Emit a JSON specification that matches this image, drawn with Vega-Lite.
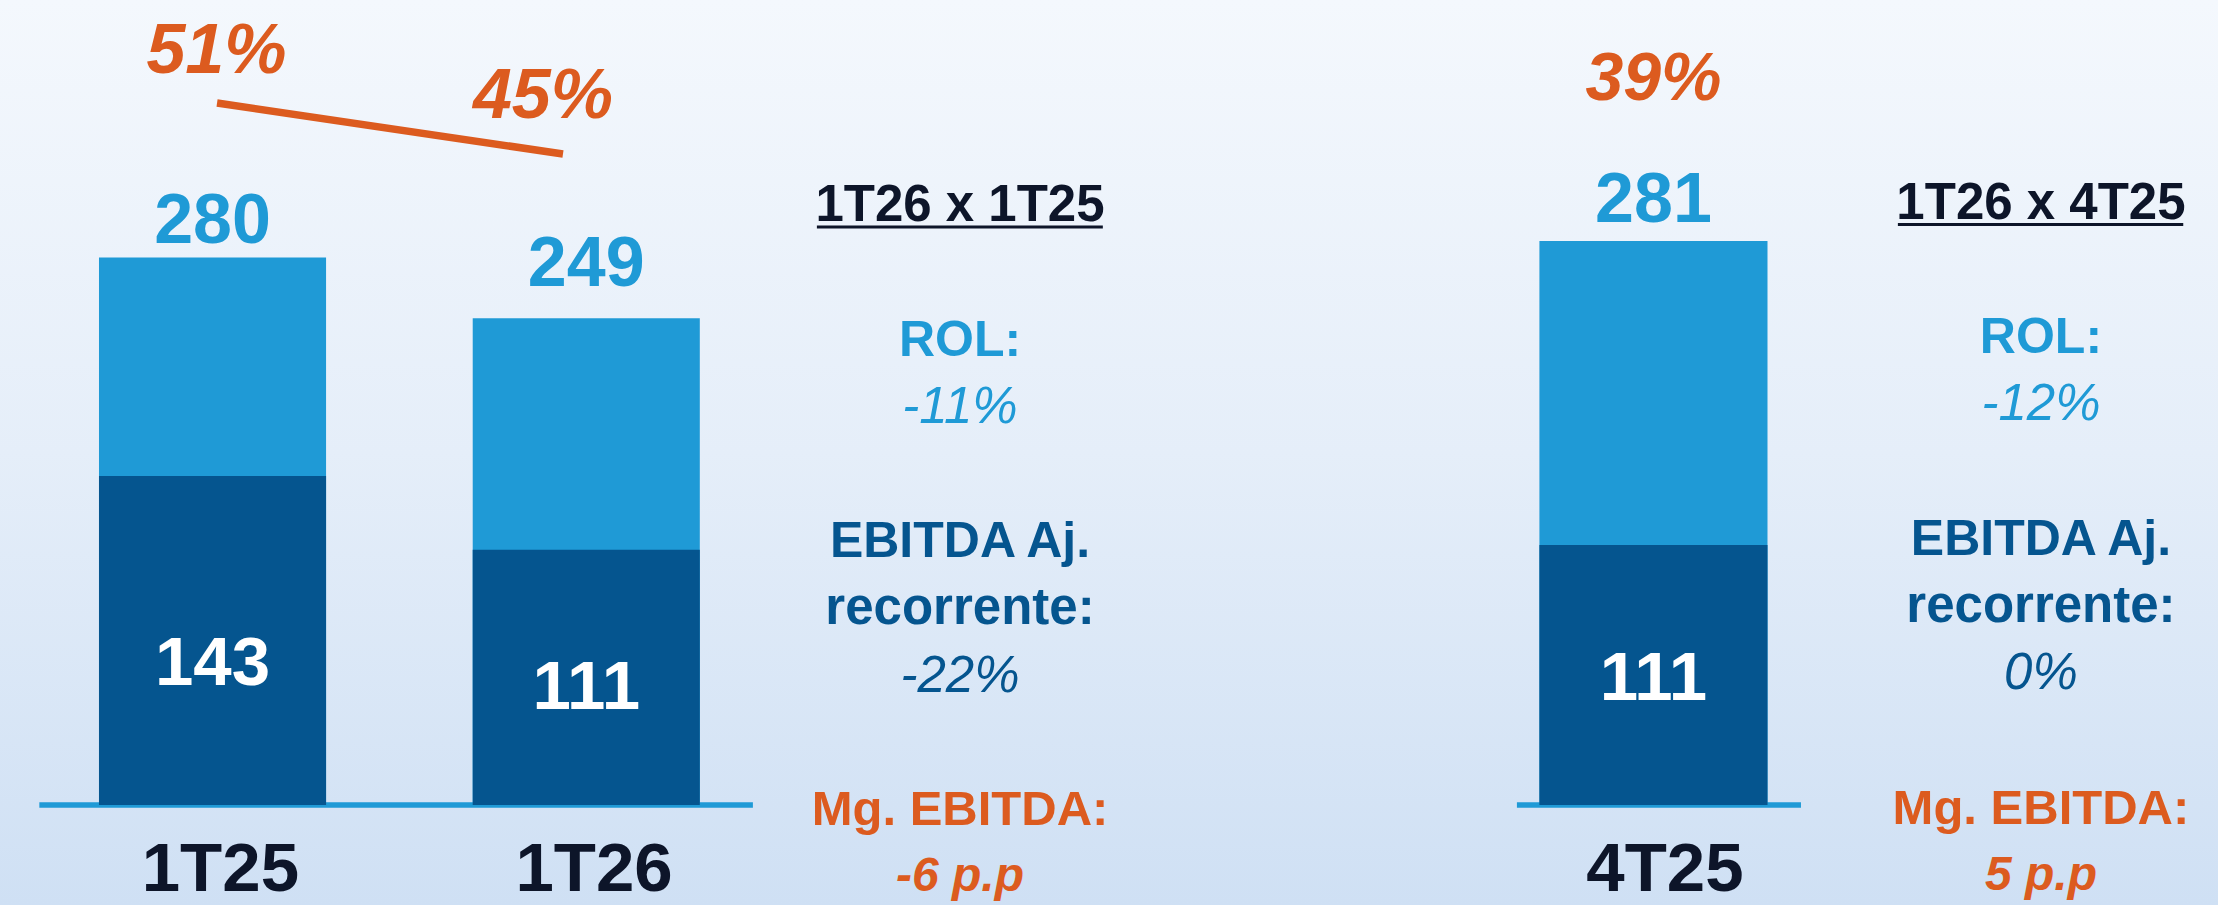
{
  "$schema": "https://vega.github.io/schema/vega-lite/v6.json",
  "padding": 0,
  "spacing": 0,
  "bounds": "flush",
  "background": "#e3edf8",
  "config": {
    "view": {
      "stroke": null,
      "fill": {"gradient": "linear", "x1": 0, "y1": 0, "x2": 0, "y2": 1,
        "stops": [{"offset": 0, "color": "#f4f8fd"}, {"offset": 0.5, "color": "#e5eef9"}, {"offset": 1, "color": "#cfe0f4"}]}
    },
    "text": {"font": "Liberation Sans", "align": "center", "baseline": "alphabetic"}
  },
  "datasets": {
    "periods": [
      {"period": "1T25", "rol": 280, "ebitda": 143, "margin": 0.51},
      {"period": "1T26", "rol": 249, "ebitda": 111, "margin": 0.45},
      {"period": "4T25", "rol": 281, "ebitda": 111, "margin": 0.39}
    ],
    "comparisons": [
      {"col": "1T26 x 1T25", "rol": "-11%", "ebitda": "-22%", "mg": "-6 p.p"},
      {"col": "1T26 x 4T25", "rol": "-12%", "ebitda": "0%", "mg": "5 p.p"}
    ]
  },
  "hconcat": [
    {
      "width": 1300,
      "height": 905,
      "resolve": {"scale": {"x": "independent", "y": "independent"}},
      "layer": [
        {
          "layer": [
            {
              "data": {"name": "periods"},
              "transform": [{"filter": "datum.period == '1T25'"}],
              "mark": {"type": "rule", "color": "#1f9ad6", "strokeWidth": 5.5},
              "encoding": {
                "x": {"datum": "1T25", "type": "nominal", "bandPosition": -0.162, "scale": {"type": "band", "domain": ["1T25", "1T26", "1T26 x 1T25"], "paddingInner": 0.3, "paddingOuter": 0.3892, "align": 0.2809, "round": false}, "axis": null},
                "x2": {"datum": "1T26", "bandPosition": 1.137},
                "y": {"datum": 0, "type": "quantitative", "scale": {"domain": [-51.151, 411.765], "zero": false, "nice": false}, "axis": null}
              }
            },
            {
              "data": {"name": "periods"},
              "transform": [{"filter": "datum.period != '4T25'"}],
              "mark": {"type": "bar", "color": "#1f9ad6", "width": {"band": 0.868}},
              "encoding": {
                "x": {"field": "period", "type": "nominal", "scale": {"type": "band", "domain": ["1T25", "1T26", "1T26 x 1T25"], "paddingInner": 0.3, "paddingOuter": 0.3892, "align": 0.2809, "round": false}, "axis": null},
                "y": {"field": "rol", "type": "quantitative", "scale": {"domain": [-51.151, 411.765], "zero": false, "nice": false}, "axis": null}
              }
            },
            {
              "data": {"name": "periods"},
              "transform": [{"filter": "datum.period != '4T25'"}],
              "mark": {"type": "text", "fontSize": 69, "fontWeight": "bold", "color": "#0d1529"},
              "encoding": {
                "x": {"field": "period", "type": "nominal", "bandPosition": 0.53, "scale": {"type": "band", "domain": ["1T25", "1T26", "1T26 x 1T25"], "paddingInner": 0.3, "paddingOuter": 0.3892, "align": 0.2809, "round": false}, "axis": null},
                "y": {"datum": -43.99, "type": "quantitative", "scale": {"domain": [-51.151, 411.765], "zero": false, "nice": false}, "axis": null},
                "text": {"field": "period"}
              }
            },
            {
              "data": {"name": "comparisons"},
              "transform": [{"filter": "datum.col == '1T26 x 1T25'"}],
              "encoding": {
                "x": {"field": "col", "type": "nominal", "scale": {"type": "band", "domain": ["1T25", "1T26", "1T26 x 1T25"], "paddingInner": 0.3, "paddingOuter": 0.3892, "align": 0.2809, "round": false}, "axis": null}
              },
              "layer": [
                {"mark": {"type": "text", "fontSize": 51, "fontWeight": "bold", "color": "#0d1529"},
                 "encoding": {"y": {"datum": 298.72, "type": "quantitative", "scale": {"domain": [-51.151, 411.765], "zero": false, "nice": false}, "axis": null}, "text": {"field": "col"}}},
                {"mark": {"type": "rule", "color": "#0d1529", "strokeWidth": 3},
                 "encoding": {
                   "x": {"field": "col", "type": "nominal", "bandPosition": -0.047, "scale": {"type": "band", "domain": ["1T25", "1T26", "1T26 x 1T25"], "paddingInner": 0.3, "paddingOuter": 0.3892, "align": 0.2809, "round": false}, "axis": null},
                   "x2": {"field": "col", "bandPosition": 1.046},
                   "y": {"datum": 295.6, "type": "quantitative", "scale": {"domain": [-51.151, 411.765], "zero": false, "nice": false}, "axis": null}}},
                {"mark": {"type": "text", "fontSize": 50, "fontWeight": "bold", "color": "#1f9ad6"},
                 "encoding": {"y": {"datum": 229.67, "type": "quantitative", "scale": {"domain": [-51.151, 411.765], "zero": false, "nice": false}, "axis": null}, "text": {"value": "ROL:"}}},
                {"mark": {"type": "text", "fontSize": 51, "fontStyle": "italic", "color": "#1f9ad6"},
                 "encoding": {"y": {"datum": 195.4, "type": "quantitative", "scale": {"domain": [-51.151, 411.765], "zero": false, "nice": false}, "axis": null}, "text": {"field": "rol"}}},
                {"mark": {"type": "text", "fontSize": 50, "fontWeight": "bold", "color": "#05558f"},
                 "encoding": {"y": {"datum": 126.85, "type": "quantitative", "scale": {"domain": [-51.151, 411.765], "zero": false, "nice": false}, "axis": null}, "text": {"value": "EBITDA Aj."}}},
                {"mark": {"type": "text", "fontSize": 51, "fontWeight": "bold", "color": "#05558f"},
                 "encoding": {"y": {"datum": 92.58, "type": "quantitative", "scale": {"domain": [-51.151, 411.765], "zero": false, "nice": false}, "axis": null}, "text": {"value": "recorrente:"}}},
                {"mark": {"type": "text", "fontSize": 51, "fontStyle": "italic", "color": "#05558f"},
                 "encoding": {"y": {"datum": 57.8, "type": "quantitative", "scale": {"domain": [-51.151, 411.765], "zero": false, "nice": false}, "axis": null}, "text": {"field": "ebitda"}}},
                {"mark": {"type": "text", "fontSize": 49, "fontWeight": "bold", "color": "#dc5b1f"},
                 "encoding": {"y": {"datum": -10.23, "type": "quantitative", "scale": {"domain": [-51.151, 411.765], "zero": false, "nice": false}, "axis": null}, "text": {"value": "Mg. EBITDA:"}}},
                {"mark": {"type": "text", "fontSize": 48, "fontWeight": "bold", "fontStyle": "italic", "color": "#dc5b1f"},
                 "encoding": {"y": {"datum": -43.99, "type": "quantitative", "scale": {"domain": [-51.151, 411.765], "zero": false, "nice": false}, "axis": null}, "text": {"field": "mg"}}}
              ]
            }
          ]
        },
        {
          "data": {"name": "periods"},
          "transform": [{"filter": "datum.period != '4T25'"}],
          "mark": {"type": "bar", "color": "#05558f", "width": {"band": 0.868}},
          "encoding": {
            "x": {"field": "period", "type": "nominal", "scale": {"type": "band", "domain": ["1T25", "1T26", "1T26 x 1T25"], "paddingInner": 0.3, "paddingOuter": 0.3892, "align": 0.2809, "round": false}, "axis": null},
            "y": {"field": "ebitda", "type": "quantitative", "scale": {"domain": [-43.478, 350.0], "zero": false, "nice": false}, "axis": null}
          }
        },
        {
          "data": {"name": "periods"},
          "transform": [{"filter": "datum.period != '4T25'"}],
          "mark": {"type": "text", "fontSize": 69, "fontWeight": "bold", "color": "#ffffff"},
          "encoding": {
            "x": {"field": "period", "type": "nominal", "scale": {"type": "band", "domain": ["1T25", "1T26", "1T26 x 1T25"], "paddingInner": 0.3, "paddingOuter": 0.3892, "align": 0.2809, "round": false}, "axis": null},
            "y": {"field": "ebitda", "type": "quantitative", "scale": {"domain": [-141.51, 1026.23], "zero": false, "nice": false}, "axis": null},
            "text": {"field": "ebitda"}
          }
        },
        {
          "data": {"name": "periods"},
          "transform": [{"filter": "datum.period != '4T25'"}],
          "mark": {"type": "text", "fontSize": 70, "fontWeight": "bold", "color": "#1f9ad6"},
          "encoding": {
            "x": {"field": "period", "type": "nominal", "scale": {"type": "band", "domain": ["1T25", "1T26", "1T26 x 1T25"], "paddingInner": 0.3, "paddingOuter": 0.3892, "align": 0.2809, "round": false}, "axis": null},
            "y": {"field": "rol", "type": "quantitative", "scale": {"domain": [-200.62, 456.42], "zero": false, "nice": false}, "axis": null},
            "text": {"field": "rol"}
          }
        },
        {
          "data": {"name": "periods"},
          "transform": [{"filter": "datum.period != '4T25'"}],
          "mark": {"type": "line", "color": "#dc5b1f", "strokeWidth": 7.5, "strokeCap": "butt"},
          "encoding": {
            "x": {"field": "period", "type": "nominal", "scale": {"type": "point", "domain": ["1T25", "1T26", "1T26 x 1T25"], "padding": 0.879, "align": 0.3569, "round": false}, "axis": null},
            "y": {"field": "margin", "type": "quantitative", "scale": {"domain": [-0.43353, 0.63118], "zero": false, "nice": false}, "axis": null}
          }
        },
        {
          "data": {"name": "periods"},
          "transform": [{"filter": "datum.period != '4T25'"}],
          "mark": {"type": "text", "fontSize": 70, "fontWeight": "bold", "fontStyle": "italic", "color": "#dc5b1f"},
          "encoding": {
            "x": {"field": "period", "type": "nominal", "scale": {"type": "point", "domain": ["1T25", "1T26", "1T26 x 1T25"], "padding": 0.9908, "align": 0.3346, "round": false}, "axis": null},
            "y": {"field": "margin", "type": "quantitative", "scale": {"domain": [-0.59933, 0.60733], "zero": false, "nice": false}, "axis": null},
            "text": {"field": "margin", "type": "quantitative", "format": ".0%"}
          }
        }
      ]
    },
    {
      "width": 918,
      "height": 905,
      "resolve": {"scale": {"y": "independent"}},
      "layer": [
        {
          "layer": [
            {
              "data": {"name": "periods"},
              "transform": [{"filter": "datum.period == '4T25'"}],
              "mark": {"type": "rule", "color": "#1f9ad6", "strokeWidth": 5.5},
              "encoding": {
                "x": {"datum": "4T25", "type": "nominal", "bandPosition": -0.022, "scale": {"type": "band", "domain": ["4T25", "1T26 x 4T25"], "paddingInner": 0.325, "paddingOuter": 0.347, "align": 0.828, "round": false}, "axis": null},
                "x2": {"datum": "4T25", "bandPosition": 1.064},
                "y": {"datum": 0, "type": "quantitative", "scale": {"domain": [-49.826, 401.096], "zero": false, "nice": false}, "axis": null}
              }
            },
            {
              "data": {"name": "periods"},
              "transform": [{"filter": "datum.period == '4T25'"}],
              "mark": {"type": "bar", "color": "#1f9ad6", "width": {"band": 0.872}},
              "encoding": {
                "x": {"field": "period", "type": "nominal", "scale": {"type": "band", "domain": ["4T25", "1T26 x 4T25"], "paddingInner": 0.325, "paddingOuter": 0.347, "align": 0.828, "round": false}, "axis": null},
                "y": {"field": "rol", "type": "quantitative", "scale": {"domain": [-49.826, 401.096], "zero": false, "nice": false}, "axis": null}
              }
            },
            {
              "data": {"name": "periods"},
              "transform": [{"filter": "datum.period == '4T25'"}],
              "mark": {"type": "text", "fontSize": 69, "fontWeight": "bold", "color": "#0d1529"},
              "encoding": {
                "x": {"field": "period", "type": "nominal", "bandPosition": 0.544, "scale": {"type": "band", "domain": ["4T25", "1T26 x 4T25"], "paddingInner": 0.325, "paddingOuter": 0.347, "align": 0.828, "round": false}, "axis": null},
                "y": {"datum": -42.85, "type": "quantitative", "scale": {"domain": [-49.826, 401.096], "zero": false, "nice": false}, "axis": null},
                "text": {"field": "period"}
              }
            },
            {
              "data": {"name": "comparisons"},
              "transform": [{"filter": "datum.col == '1T26 x 4T25'"}],
              "encoding": {
                "x": {"field": "col", "type": "nominal", "scale": {"type": "band", "domain": ["4T25", "1T26 x 4T25"], "paddingInner": 0.325, "paddingOuter": 0.347, "align": 0.828, "round": false}, "axis": null}
              },
              "layer": [
                {"mark": {"type": "text", "fontSize": 51, "fontWeight": "bold", "color": "#0d1529"},
                 "encoding": {"y": {"datum": 291.98, "type": "quantitative", "scale": {"domain": [-49.826, 401.096], "zero": false, "nice": false}, "axis": null}, "text": {"field": "col"}}},
                {"mark": {"type": "rule", "color": "#0d1529", "strokeWidth": 3},
                 "encoding": {
                   "x": {"field": "col", "type": "nominal", "bandPosition": -0.047, "scale": {"type": "band", "domain": ["4T25", "1T26 x 4T25"], "paddingInner": 0.325, "paddingOuter": 0.347, "align": 0.828, "round": false}, "axis": null},
                   "x2": {"field": "col", "bandPosition": 1.044},
                   "y": {"datum": 289.24, "type": "quantitative", "scale": {"domain": [-49.826, 401.096], "zero": false, "nice": false}, "axis": null}}},
                {"mark": {"type": "text", "fontSize": 50, "fontWeight": "bold", "color": "#1f9ad6"},
                 "encoding": {"y": {"datum": 225.21, "type": "quantitative", "scale": {"domain": [-49.826, 401.096], "zero": false, "nice": false}, "axis": null}, "text": {"value": "ROL:"}}},
                {"mark": {"type": "text", "fontSize": 51, "fontStyle": "italic", "color": "#1f9ad6"},
                 "encoding": {"y": {"datum": 191.83, "type": "quantitative", "scale": {"domain": [-49.826, 401.096], "zero": false, "nice": false}, "axis": null}, "text": {"field": "rol"}}},
                {"mark": {"type": "text", "fontSize": 50, "fontWeight": "bold", "color": "#05558f"},
                 "encoding": {"y": {"datum": 124.56, "type": "quantitative", "scale": {"domain": [-49.826, 401.096], "zero": false, "nice": false}, "axis": null}, "text": {"value": "EBITDA Aj."}}},
                {"mark": {"type": "text", "fontSize": 51, "fontWeight": "bold", "color": "#05558f"},
                 "encoding": {"y": {"datum": 91.18, "type": "quantitative", "scale": {"domain": [-49.826, 401.096], "zero": false, "nice": false}, "axis": null}, "text": {"value": "recorrente:"}}},
                {"mark": {"type": "text", "fontSize": 51, "fontStyle": "italic", "color": "#05558f"},
                 "encoding": {"y": {"datum": 57.8, "type": "quantitative", "scale": {"domain": [-49.826, 401.096], "zero": false, "nice": false}, "axis": null}, "text": {"field": "ebitda"}}},
                {"mark": {"type": "text", "fontSize": 49, "fontWeight": "bold", "color": "#dc5b1f"},
                 "encoding": {"y": {"datum": -9.47, "type": "quantitative", "scale": {"domain": [-49.826, 401.096], "zero": false, "nice": false}, "axis": null}, "text": {"value": "Mg. EBITDA:"}}},
                {"mark": {"type": "text", "fontSize": 48, "fontWeight": "bold", "fontStyle": "italic", "color": "#dc5b1f"},
                 "encoding": {"y": {"datum": -42.35, "type": "quantitative", "scale": {"domain": [-49.826, 401.096], "zero": false, "nice": false}, "axis": null}, "text": {"field": "mg"}}}
              ]
            }
          ]
        },
        {
          "data": {"name": "periods"},
          "transform": [{"filter": "datum.period == '4T25'"}],
          "mark": {"type": "bar", "color": "#05558f", "width": {"band": 0.872}},
          "encoding": {
            "x": {"field": "period", "type": "nominal", "scale": {"type": "band", "domain": ["4T25", "1T26 x 4T25"], "paddingInner": 0.325, "paddingOuter": 0.347, "align": 0.828, "round": false}, "axis": null},
            "y": {"field": "ebitda", "type": "quantitative", "scale": {"domain": [-42.699, 343.723], "zero": false, "nice": false}, "axis": null}
          }
        },
        {
          "data": {"name": "periods"},
          "transform": [{"filter": "datum.period == '4T25'"}],
          "mark": {"type": "text", "fontSize": 69, "fontWeight": "bold", "color": "#ffffff"},
          "encoding": {
            "x": {"field": "period", "type": "nominal", "scale": {"type": "band", "domain": ["4T25", "1T26 x 4T25"], "paddingInner": 0.325, "paddingOuter": 0.347, "align": 0.828, "round": false}, "axis": null},
            "y": {"field": "ebitda", "type": "quantitative", "scale": {"domain": [-153.51, 1014.23], "zero": false, "nice": false}, "axis": null},
            "text": {"field": "ebitda"}
          }
        },
        {
          "data": {"name": "periods"},
          "transform": [{"filter": "datum.period == '4T25'"}],
          "mark": {"type": "text", "fontSize": 70, "fontWeight": "bold", "color": "#1f9ad6"},
          "encoding": {
            "x": {"field": "period", "type": "nominal", "scale": {"type": "band", "domain": ["4T25", "1T26 x 4T25"], "paddingInner": 0.325, "paddingOuter": 0.347, "align": 0.828, "round": false}, "axis": null},
            "y": {"field": "rol", "type": "quantitative", "scale": {"domain": [-215.08, 441.96], "zero": false, "nice": false}, "axis": null},
            "text": {"field": "rol"}
          }
        },
        {
          "data": {"name": "periods"},
          "transform": [{"filter": "datum.period == '4T25'"}],
          "mark": {"type": "text", "fontSize": 68, "fontWeight": "bold", "fontStyle": "italic", "color": "#dc5b1f"},
          "encoding": {
            "x": {"field": "period", "type": "nominal", "scale": {"type": "band", "domain": ["4T25", "1T26 x 4T25"], "paddingInner": 0.325, "paddingOuter": 0.347, "align": 0.828, "round": false}, "axis": null},
            "y": {"field": "margin", "type": "quantitative", "scale": {"domain": [-0.68333, 0.52333], "zero": false, "nice": false}, "axis": null},
            "text": {"field": "margin", "type": "quantitative", "format": ".0%"}
          }
        }
      ]
    }
  ]
}
